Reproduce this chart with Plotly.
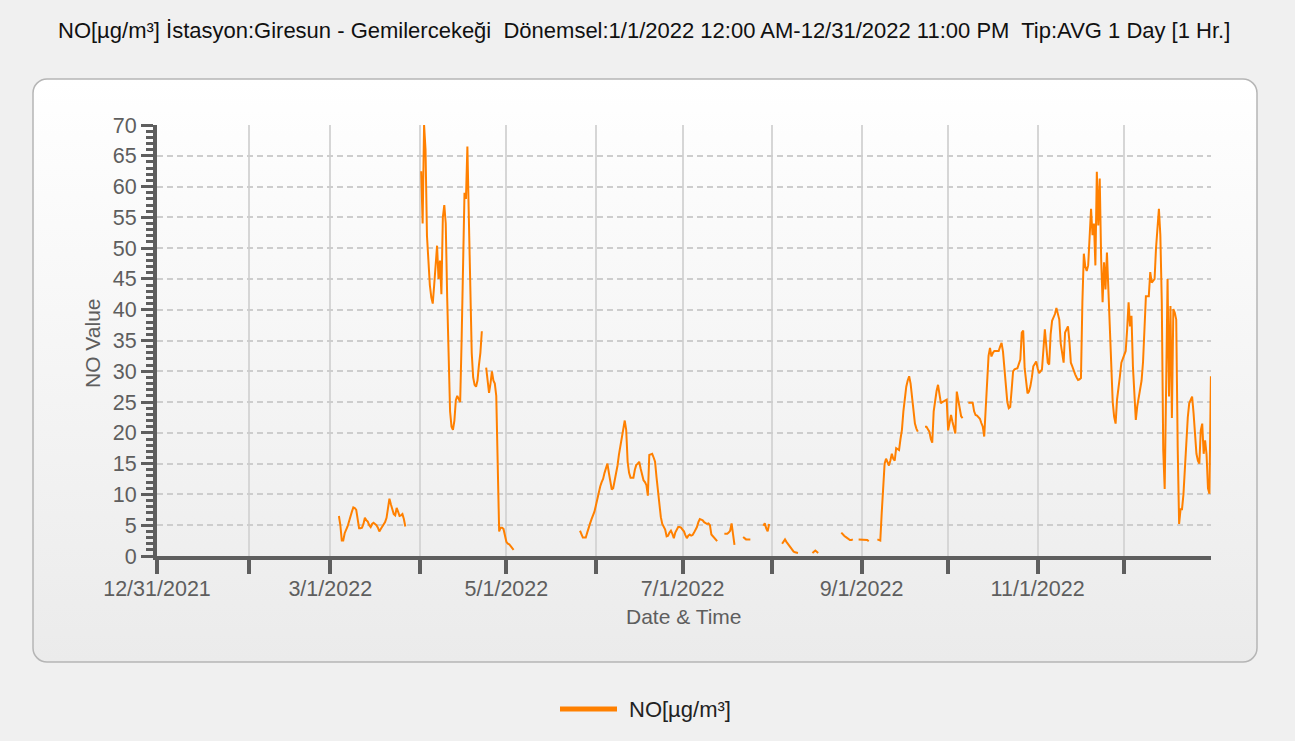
import base64

import pandas as pd
import plotly.graph_objects as go

# ----------------------------------
# Data: NO [µg/m³], one value every 12 hours (00:00, 12:00), None = no data
# ----------------------------------
mar_values = [None] * 6 + [
    6.5, 5.0, 2.5, 2.5, 3.7, 4.2, 4.8, 5.6, 6.6, 7.2, 7.9, 7.8, 7.5, 6.0, 4.5, 4.5,
    4.6, 5.2, 6.2, 5.8, 5.6, 5.0, 4.7, 5.2, 5.4, 5.2, 5.0, 4.6, 4.0, 4.4, 4.8, 5.0,
    5.5, 6.2, 8.2, 9.3, 8.4, 7.4, 6.8, 6.6, 7.8, 7.2, 6.5, 6.6, 6.8, 6.0, 4.8,
] + [None] * 9

apr_values = [None] + [
    62.5, 54, 70, 66, 52, 47, 44, 42, 41, 44, 47, 50.4, 45, 48, 42.5, 55, 57, 54,
    42, 30, 23.5, 21, 20.5, 22, 25.3, 26, 25.5, 25, 35, 45, 59, 58, 66.5, 55, 42,
    33, 29, 27.8, 27.5, 28.5, 31, 33, 36.5, None, None, 30.6, 28, 26.5, 28, 30,
    28.5, 28, 26, 12, 4, 4.6, 4.6, 4.4, 3.5,
]

may_values = [2.3, 2.0, 1.9, 1.6, 1.3, 1.0] + [None] * 45 + [
    4.1, 3.6, 3.0, 3.0, 3.0, 3.8, 4.8, 5.3, 6.0, 6.5, 7.2,
]

jun_values = [
    8.2, 9.3, 10.5, 11.3, 12.0, 12.5, 13.5, 14.3, 15.0, 13.5,
    12.0, 10.8, 11.0, 12.2, 13.5, 14.7, 16.5, 17.8, 19.5, 21.0,
    22.0, 20.5, 15.3, 13.5, 12.7, 12.7, 12.7, 14.0, 14.8, 15.0,
    15.3, 14.2, 13.3, 12.3, 12.0, 11.5, 9.8, 16.4, 16.5, 16.6,
    16.0, 15.3, 12.8, 10.2, 8.0, 6.3, 5.2, 4.8, 4.3, 3.2,
    3.3, 3.8, 4.1, 3.6, 2.9, 3.8, 4.3, 4.7, 4.7, 4.6,
]

jul_values = [
    4.3, 4.0, 3.4, 2.9, 3.3, 3.5, 3.3, 3.4, 3.8, 4.2, 4.7, 5.5, 6.0, 5.9, 5.8,
    5.5, 5.3, 5.2, 5.3, 5.0, 3.5, 3.2, 2.9, 2.7, 2.4,
] + [None] * 4 + [3.6, 3.6, 3.6, 3.8, 4.1, 5.3, 3.4, 1.8] + [None] * 5 + [
    3.1, 2.9, 2.7, 2.7, 2.7, 2.7,
] + [None] * 8 + [4.9, 5.3, 4.5, 4.0, 5.2] + [None]

aug_values = [None] * 7 + [
    2.0, 2.4, 2.7, 2.3, 2.0, 1.5, 1.2, 0.9, 0.7, 0.6, 0.5, 0.5,
] + [None] * 9 + [0.5, 0.7, 0.9, 0.7, 0.5] + [None] * 15 + [
    3.8, 3.5, 3.3, 3.1, 2.9, 2.7, 2.6, 2.6, 2.7,
] + [None] * 3 + [2.7, 2.7]

sep_values = [2.7, 2.7, 2.7, 2.7, 2.6, 2.4] + [None] * 5 + [
    2.7, 2.6, 2.5, 7.0, 10.9, 15.0, 15.8, 15.3, 14.7, 15.5,
    16.6, 15.8, 15.5, 17.5, 17.3, 17.2, 19.0, 20.5, 23.5, 25.9,
    27.5, 28.5, 29.2, 28.0, 25.5, 23.0, 21.5, 20.7, 20.2,
] + [None] * 4 + [
    21.0, 21.0, 20.6, 20.2, 19.0, 18.4, 23.5, 25.6, 26.8, 27.8,
    25.8, 24.8, 25.0, 25.1, 25.2, 25.4,
]

oct_values = [
    20.4, 21.6, 22.9, 21.8, 20.8, 19.9, 26.7, 25.1, 23.5, 22.7, 22.4,
] + [None] * 3 + [
    24.9, 24.9, 24.9, 24.9, 23.5, 22.9, 22.8, 22.6, 22.3, 21.6,
    21.0, 19.4, 24.0, 29.5, 32.5, 33.8, 32.4, 33.0, 33.3, 33.3,
    33.3, 33.3, 34.0, 34.6, 33.2, 30.3, 27.5, 25.0, 24.0, 24.2,
    27.0, 30.0, 30.3, 30.4, 30.5, 31.2, 31.9, 36.3, 36.6, 30.5,
    28.0, 26.4, 26.7, 27.6, 29.0, 30.8, 31.2, 31.6,
]

nov_values = [
    30.5, 29.7, 30.0, 30.3, 33.5, 36.8, 34.1, 31.4, 31.1, 36.0,
    38.2, 38.8, 39.3, 40.3, 39.5, 38.4, 34.5, 33.0, 31.4, 36.3,
    36.8, 37.3, 34.9, 31.4, 30.8, 30.0, 29.5, 29.0, 28.6, 28.7,
    28.9, 41.2, 49.1, 47.0, 46.3, 47.2, 51.0, 56.4, 52.1, 54.0,
    47.2, 62.4, 53.7, 61.3, 48.2, 41.2, 47.7, 43.3, 49.3, 43.9,
    38.0, 31.0, 25.0, 22.6, 21.5, 25.4, 27.0, 29.2, 31.4, 32.0,
]

dec_values = [
    32.5, 33.3, 36.8, 41.2, 37.3, 39.0, 30.8, 25.4, 22.1, 24.3,
    26.0, 27.0, 28.5, 31.5, 37.3, 42.2, 42.2, 42.2, 46.1, 44.4,
    44.7, 45.0, 50.0, 54.3, 56.4, 52.1, 41.2, 17.2, 10.9, 27.5,
    45.0, 25.9, 40.6, 22.4, 40.1, 39.5, 38.4, 17.7, 5.2, 7.6,
    7.6, 10.0, 14.5, 19.0, 22.5, 24.8, 25.5, 25.9, 23.2, 19.4,
    16.6, 15.5, 15.0, 20.4, 21.5, 16.6, 18.8, 16.5, 11.0, 10.1,
    29.2, None,
]

month_series = [
    (3, mar_values), (4, apr_values), (5, may_values), (6, jun_values),
    (7, jul_values), (8, aug_values), (9, sep_values), (10, oct_values),
    (11, nov_values), (12, dec_values),
]

tick_dates = [
    "2021-12-31", "2022-02-01", "2022-03-01", "2022-04-01", "2022-05-01",
    "2022-06-01", "2022-07-01", "2022-08-01", "2022-09-01", "2022-10-01",
    "2022-11-01", "2022-12-01",
]
tick_labels = [
    "12/31/2021", "", "3/1/2022", "", "5/1/2022", "", "7/1/2022", "",
    "9/1/2022", "", "11/1/2022", "",
]

TITLE = ("NO[µg/m³] İstasyon:Giresun - Gemilercekeği  Dönemsel:1/1/2022 12:00 AM-"
         "12/31/2022 11:00 PM  Tip:AVG 1 Day [1 Hr.]")
SERIES_NAME = "NO[µg/m³]"

# ----------------------------------
# Build the time series
# ----------------------------------
times, values = [], []
for month, vals in month_series:
    start = pd.Timestamp(2022, month, 1)
    assert len(vals) == 2 * start.days_in_month, month
    times += list(pd.date_range(start, periods=len(vals), freq="12h"))
    values += vals

W, H = 1295, 741
FONT = "Liberation Sans, Arial, sans-serif"
AXIS_COLOR = "#5e5e5e"
LINE_COLOR = "#ff8000"

# plot area in pixels
PX_L, PX_R, PX_T, PX_B = 157, 1211, 125, 556

fig = go.Figure()

fig.add_trace(
    go.Scatter(
        x=times,
        y=values,
        mode="lines",
        name=SERIES_NAME,
        line=dict(color=LINE_COLOR, width=2),
        connectgaps=False,
        showlegend=False,
    )
)

# rounded gradient panel behind the chart
panel_svg = (
    "<svg xmlns='http://www.w3.org/2000/svg' width='1226' height='585'>"
    "<defs><linearGradient id='g' x1='0' y1='0' x2='0' y2='1'>"
    "<stop offset='0' stop-color='#ffffff'/><stop offset='1' stop-color='#ebebeb'/>"
    "</linearGradient></defs>"
    "<rect x='1' y='1' width='1224' height='583' rx='14' ry='14' fill='url(#g)' "
    "stroke='#b5b5b5' stroke-width='1.5'/></svg>"
)
panel_src = "data:image/svg+xml;base64," + base64.b64encode(panel_svg.encode()).decode()

fig.add_layout_image(
    source=panel_src,
    xref="paper", yref="paper",
    x=32 / W, y=1 - 78 / H,
    sizex=1226 / W, sizey=585 / H,
    xanchor="left", yanchor="top",
    sizing="stretch", layer="below",
)

fig.update_layout(
    width=W,
    height=H,
    margin=dict(l=0, r=0, t=0, b=0),
    paper_bgcolor="#f0f0f0",
    plot_bgcolor="rgba(0,0,0,0)",
    font=dict(family=FONT, size=21, color=AXIS_COLOR),
    showlegend=False,
)

fig.update_xaxes(
    domain=[PX_L / W, PX_R / W],
    range=["2021-12-31", "2022-12-31 01:00"],
    tickmode="array",
    tickvals=tick_dates,
    ticktext=tick_labels,
    ticks="outside",
    ticklen=14,
    tickwidth=4,
    tickcolor=AXIS_COLOR,
    ticklabelstandoff=-4,
    showline=True,
    linewidth=4,
    linecolor=AXIS_COLOR,
    showgrid=True,
    gridcolor="#d6d6d6",
    gridwidth=2,
    zeroline=False,
    automargin=False,
    tickfont=dict(family=FONT, size=21.5, color=AXIS_COLOR),
)

fig.update_yaxes(
    domain=[(H - PX_B) / H, (H - PX_T) / H],
    range=[0, 70],
    tick0=0,
    dtick=5,
    ticks="outside",
    ticklen=12,
    tickwidth=3,
    tickcolor=AXIS_COLOR,
    showline=True,
    linewidth=4,
    linecolor=AXIS_COLOR,
    showgrid=True,
    gridcolor="#cdcdcd",
    gridwidth=1.5,
    griddash="6px,4px",
    minor=dict(dtick=1, ticks="outside", ticklen=7, tickwidth=3,
               tickcolor=AXIS_COLOR, showgrid=False),
    zeroline=False,
    automargin=False,
    tickfont=dict(family=FONT, size=21.5, color=AXIS_COLOR),
)

# title and axis titles
fig.add_annotation(
    text=TITLE, xref="paper", yref="paper", x=643.5 / W, y=1 - 31 / H,
    xanchor="center", yanchor="middle",
    showarrow=False, font=dict(family=FONT, size=22, color="#111111"),
)
fig.add_annotation(
    text="Date & Time", xref="paper", yref="paper",
    x=(PX_L + PX_R) / 2 / W, y=1 - 616 / H,
    xanchor="center", yanchor="middle",
    showarrow=False, font=dict(family=FONT, size=21, color=AXIS_COLOR),
)
fig.add_annotation(
    text="NO Value", xref="paper", yref="paper",
    x=92 / W, y=1 - 343 / H, textangle=-90,
    xanchor="center", yanchor="middle",
    showarrow=False, font=dict(family=FONT, size=21, color=AXIS_COLOR),
)

# legend (line sample + label) under the panel
fig.add_shape(
    type="line", xref="paper", yref="paper",
    x0=560 / W, x1=617 / W, y0=1 - 709 / H, y1=1 - 709 / H,
    line=dict(color=LINE_COLOR, width=5),
)
fig.add_annotation(
    text=SERIES_NAME, xref="paper", yref="paper",
    x=627 / W, y=1 - 709 / H, xanchor="left", yanchor="middle",
    showarrow=False, font=dict(family=FONT, size=22, color="#222222"),
)

fig.write_html(
    "out.html",
    config={"displayModeBar": False},
    post_script="document.body.style.margin='0';"
                "document.documentElement.style.overflow='hidden';",
)
